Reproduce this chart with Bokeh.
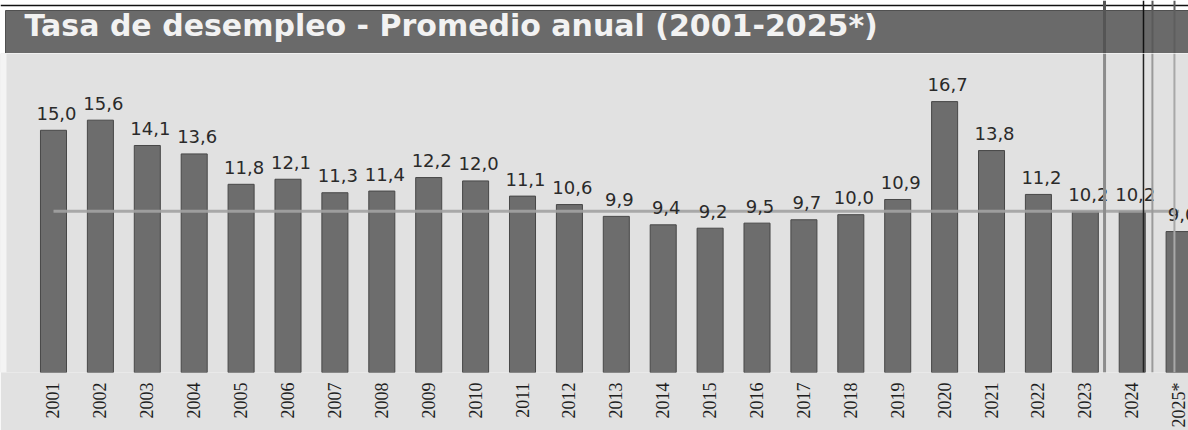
import math
from bokeh.plotting import figure
from bokeh.models import Range1d, FixedTicker, ColumnDataSource, Span
from bokeh.layouts import column
from bokeh.core.properties import value
from bokeh.embed import file_html
from bokeh.resources import INLINE

# ---- data ----
years = ["2001", "2002", "2003", "2004", "2005", "2006", "2007", "2008", "2009",
         "2010", "2011", "2012", "2013", "2014", "2015", "2016", "2017", "2018",
         "2019", "2020", "2021", "2022", "2023", "2024", "2025*"]
unemployment = [15.0, 15.6, 14.1, 13.6, 11.8, 12.1, 11.3, 11.4, 12.2, 12.0, 11.1,
                10.6, 9.9, 9.4, 9.2, 9.5, 9.7, 10.0, 10.9, 16.7, 13.8, 11.2, 10.2,
                10.2, 9.0]
reference_level = 10.2
title_text = "Tasa de desempleo - Promedio anual (2001-2025*)"

# ---- styles ----
BG = "#e1e1e1"
TITLE_BG = "#6a6a6a"
BAR = "#6d6d6d"
BAR_EDGE = "#474747"
TEXT = "#2a2a2a"
W = 1188
TH = 53
CH = 430 - TH

xs = list(range(len(years)))
labels = [f"{v:.1f}".replace(".", ",") for v in unemployment]
src = ColumnDataSource(dict(x=xs, val=unemployment, label=labels))

# ---- title band ----
t = figure(width=W, height=TH, x_range=Range1d(0, W), y_range=Range1d(0, TH),
           output_backend="svg", toolbar_location=None,
           x_axis_location=None, y_axis_location=None)
t.min_border_left = t.min_border_right = t.min_border_top = t.min_border_bottom = 0
t.grid.visible = False
t.outline_line_color = None
t.background_fill_color = "white"
t.border_fill_color = "white"
t.quad(left=[5], right=[W], bottom=[0], top=[TH - 10], fill_color=TITLE_BG,
       line_color="#505050", line_width=1)
t.add_layout(Span(location=TH - 5, dimension="width", line_color="#111111",
                  line_width=1.5))
t.text(x=[24], y=[TH - 25], text=[title_text], text_font=value("DejaVu Sans"),
       text_font_style="bold", text_font_size="30px", text_color="#f2f2f2",
       text_baseline="middle", text_align="left")

# ---- chart ----
p = figure(width=W, height=CH, x_range=Range1d(-1.13, 24.2),
           y_range=Range1d(0.65, 19.55), output_backend="svg",
           toolbar_location=None, y_axis_location=None)
p.min_border_left = 0
p.min_border_right = 0
p.min_border_top = 0
p.min_border_bottom = 57
p.grid.visible = False
p.outline_line_color = None
p.background_fill_color = BG
p.border_fill_color = BG

p.vbar(x="x", top="val", bottom=0, width=0.555, fill_color=BAR,
       line_color=BAR_EDGE, line_width=1, source=src)
p.line(x=[xs[0], xs[-1]], y=[reference_level, reference_level],
       line_color="#a2a2a2", line_width=3, line_alpha=0.9)
p.text(x="x", y="val", text="label", source=src, text_align="center",
       text_baseline="middle", x_offset=3, y_offset=-17,
       text_font=value("DejaVu Sans"), text_font_size="18px", text_color=TEXT)

ax = p.xaxis[0]
ax.ticker = FixedTicker(ticks=xs)
ax.major_label_overrides = {i: y for i, y in zip(xs, years)}
ax.major_label_orientation = math.pi / 2
ax.axis_line_color = None
ax.major_tick_line_color = None
ax.minor_tick_line_color = None
ax.major_tick_out = 0
ax.major_tick_in = 0
ax.major_label_standoff = 10
ax.major_label_text_font = "Liberation Serif"
ax.major_label_text_font_size = "18px"
ax.major_label_text_color = "#1e1e1e"

# scan fold lines at the right edge and white paper margin at the left
for loc, col, wdt in [(22.41, "#8c8c8c", 3), (23.24, "#222222", 1.5),
                      (23.43, "#9a9a9a", 2), (23.90, "#a8a8a8", 2),
                      (-1.066, "#f4f4f4", 6)]:
    p.add_layout(Span(location=loc, dimension="height", line_color=col,
                      line_width=wdt))
for loc, col, wdt in [(1104, "#555555", 3), (1143, "#111111", 1.5),
                      (1152, "#5a5a5a", 2), (1174, "#5e5e5e", 2)]:
    t.add_layout(Span(location=loc, dimension="height", line_color=col,
                      line_width=wdt))

layout = column(t, p, spacing=0)
open("out.html", "w").write(file_html(layout, INLINE))
